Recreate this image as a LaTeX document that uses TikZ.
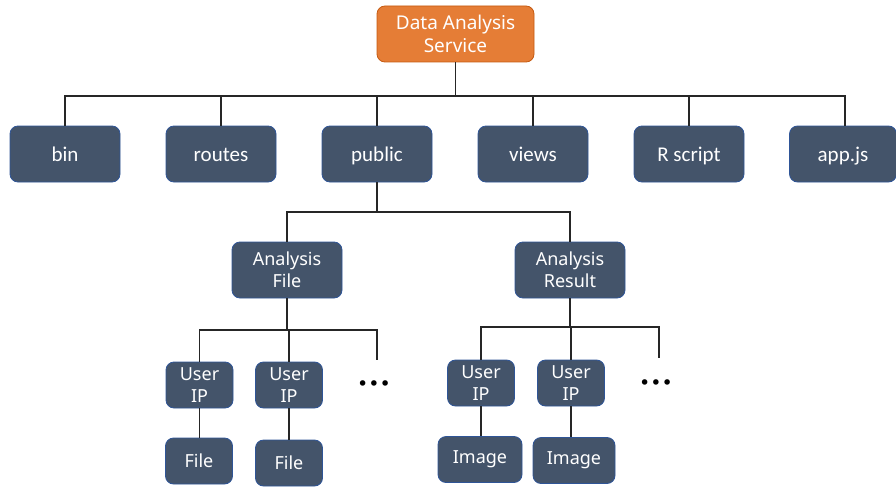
\documentclass[tikz,border=0pt]{standalone}
\usepackage{fontspec}
\setmainfont{Noto Sans}
\newfontfamily\calfont{Carlito}
\newfontfamily\dejafont{DejaVu Sans}
\definecolor{slate}{HTML}{44546A}
\definecolor{slateedge}{HTML}{2F5597}
\definecolor{orangefill}{HTML}{E57D36}
\definecolor{orangeedge}{HTML}{C55A11}
\definecolor{linecol}{HTML}{262626}
\begin{document}
\begin{tikzpicture}[x=1pt,y=-1pt,
  box/.style={draw=slateedge, line width=0.8pt, fill=slate, rounded corners=8pt, text=white, inner sep=0pt, align=center},
  lvl/.style={box, minimum width=110pt, minimum height=56pt, text height=15pt, text depth=0pt, font=\calfont\fontsize{21}{24}\selectfont},
  mid/.style={box, minimum width=110pt, minimum height=56pt, font=\fontsize{18}{22}\selectfont},
  small/.style={box, minimum width=67pt, minimum height=46pt, font=\fontsize{18}{22}\selectfont},
  rootbox/.style={draw=orangeedge, line width=0.8pt, fill=orangefill, rounded corners=8pt, text=white, inner sep=0pt, align=center, minimum width=157pt, minimum height=56pt, font=\fontsize{19}{23}\selectfont},
  wire/.style={draw=linecol, line width=1.2pt},
  dots/.style={inner sep=0pt, font=\dejafont\fontsize{19}{19}\selectfont}
]
\useasboundingbox (0,0) rectangle (896,487);
% root
\node[rootbox] (root) at (455.5,34) {Data Analysis\\Service};
% level 1
\node[lvl] (bin) at (65,154) {bin};
\node[lvl] (routes) at (221,154) {routes};
\node[lvl] (public) at (377,154) {public};
\node[lvl] (views) at (533,154) {views};
\node[lvl] (rscript) at (689,154) {R script};
\node[lvl, minimum width=107pt] (appjs) at (843,154) {app.js};
% level 2
\node[mid] (afile) at (287,270) {Analysis\\File};
\node[mid] (aresult) at (570,270) {Analysis\\Result};
% level 3
\node[small] (ip1) at (199.5,385) {User\\IP};
\node[small] (ip2) at (289,385) {User\\IP};
\node[small] (ip3) at (481,383) {User\\IP};
\node[small] (ip4) at (571,383) {User\\IP};
\node[small] (f1) at (199,461) {File};
\node[small] (f2) at (289,463) {File};
\node[small, minimum width=84pt] (im1) at (480,459.5) {Image};
\node[small, minimum width=82pt] (im2) at (574,460.5) {Image};
\node[dots] (d1) at (374,386) {•••};
\node[dots] (d2) at (656,385) {•••};
\coordinate (e1) at (377,360);
\coordinate (e2) at (659,358);
% connectors
\coordinate (j0) at (455.5,96);
\draw[wire] (root.south) -- (j0);
\draw[wire] (bin.north) |- (j0) -| (appjs.north -| 845,0);
\foreach \n in {routes,public,views,rscript}{\draw[wire] (\n.north) -- (\n.north |- j0);}
\coordinate (j1) at (377,212);
\draw[wire] (public.south) -- (j1);
\draw[wire] (afile.north) |- (j1) -| (aresult.north);
\coordinate (j2) at (287,330);
\draw[wire] (afile.south) -- (j2);
\draw[wire] (ip1.north) |- (j2) -| (e1);
\draw[wire] (ip2.north) -- (ip2.north |- j2);
\coordinate (j3) at (570,327);
\draw[wire] (aresult.south) -- (j3);
\draw[wire] (ip3.north) |- (j3) -| (e2);
\draw[wire] (ip4.north) -- (ip4.north |- j3);
\draw[wire] (ip1.south) -- (f1.north -| ip1.south);
\draw[wire] (ip2.south) -- (f2.north -| ip2.south);
\draw[wire] (ip3.south) -- (im1.north -| ip3.south);
\draw[wire] (ip4.south) -- (im2.north -| ip4.south);
\end{tikzpicture}
\end{document}
